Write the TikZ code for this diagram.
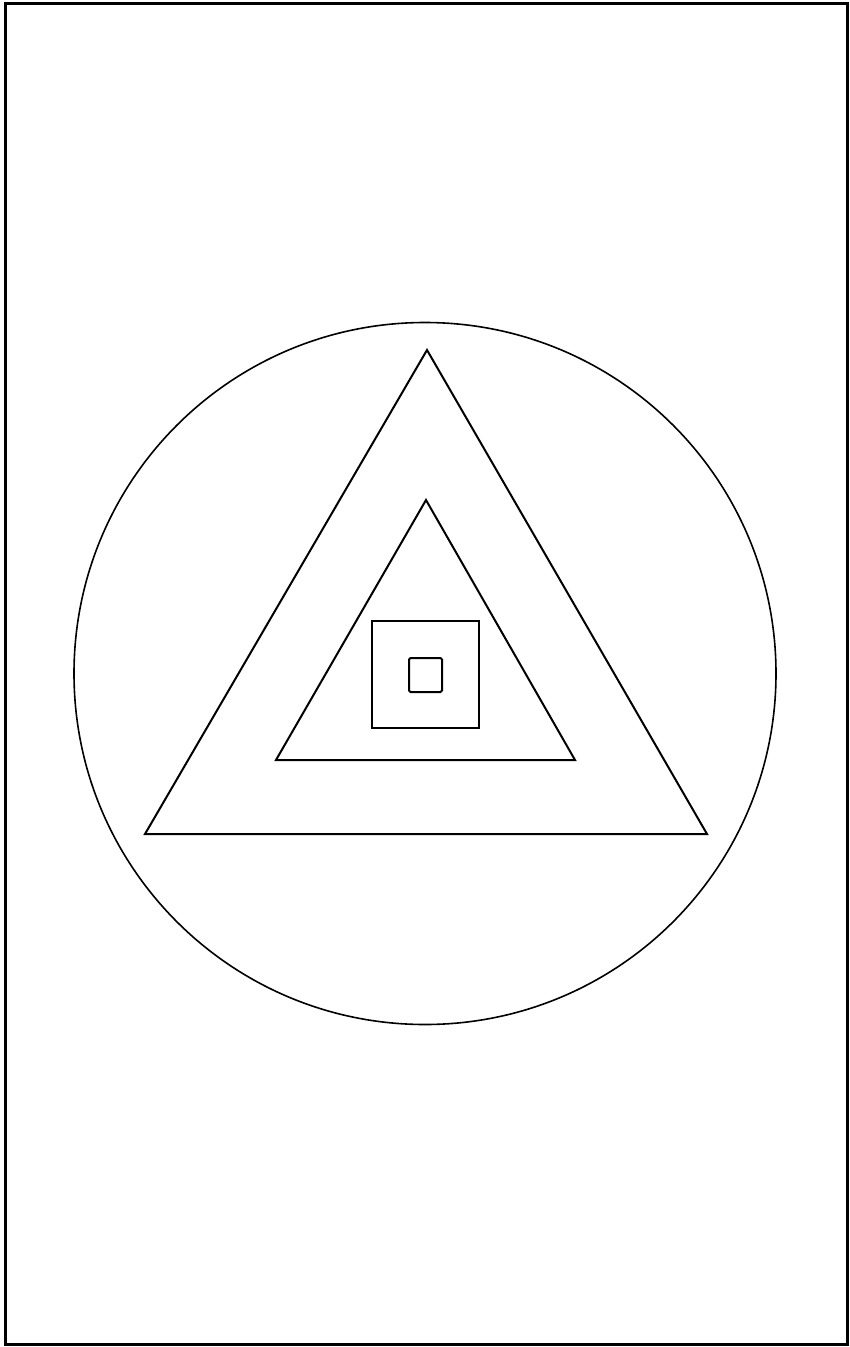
\documentclass[tikz,border=0pt]{standalone}
\begin{document}
\begin{tikzpicture}[x=1pt,y=-1pt,
  frameline/.style={line width=3pt},
  circleline/.style={line width=1.6pt},
  figline/.style={line width=2pt,line join=miter}]
\useasboundingbox (0,0) rectangle (850,1347);
\draw[frameline] (5.5,3) rectangle (847.5,1344.5);
\draw[circleline] (425,673.5) circle[radius=351];
\coordinate (A1) at (427,350);
\coordinate (B1) at (145,834);
\coordinate (C1) at (707,834);
\draw[figline] (A1) -- (B1) -- (C1) -- cycle;
\coordinate (A2) at (426,500);
\coordinate (B2) at (276,760);
\coordinate (C2) at (575,760);
\draw[figline] (A2) -- (B2) -- (C2) -- cycle;
\draw[figline] (372,621) rectangle (479,728);
\draw[figline,rounded corners=1.5pt] (409,658) rectangle (442,692);
\end{tikzpicture}
\end{document}
